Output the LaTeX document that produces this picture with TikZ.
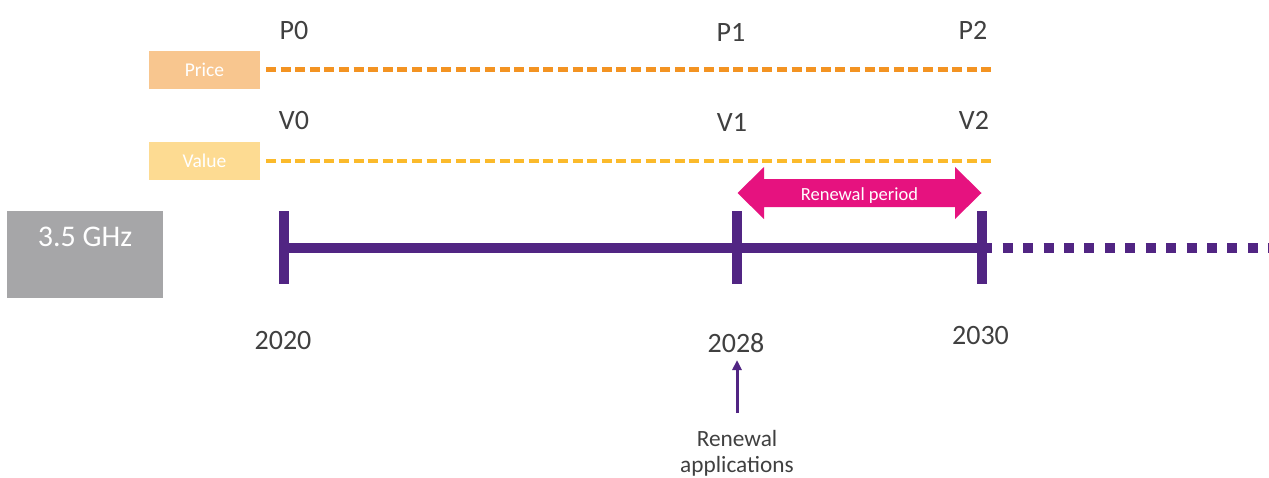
\documentclass[tikz,border=0pt]{standalone}
\usepackage{fontspec}
\setmainfont{Carlito}
\usetikzlibrary{arrows.meta}
\definecolor{pricebox}{HTML}{F8C68F}
\definecolor{valuebox}{HTML}{FDDB92}
\definecolor{priceline}{HTML}{F39322}
\definecolor{valueline}{HTML}{FBBA2B}
\definecolor{band}{HTML}{512583}
\definecolor{renewal}{HTML}{E6127F}
\definecolor{bandbox}{HTML}{A6A6A8}
\definecolor{ink}{HTML}{404040}
\tikzset{
  lbl/.style={text=ink, font=\fontsize{28}{30}\selectfont, anchor=base, inner sep=0pt},
  tagbox/.style={minimum width=111pt, minimum height=38pt, inner sep=0pt, text=white,
    font=\fontsize{19.5}{22}\selectfont},
  dashline/.style={line width=4.5pt, dash pattern=on 10pt off 4.6pt},
  tline/.style={band, line width=10pt, line cap=butt},
  tick/.style={band, line width=10pt, line cap=butt},
}
\begin{document}
\begin{tikzpicture}[x=1pt,y=-1pt]
\useasboundingbox (0,0) rectangle (1269,477);

% price and value rows
\node[tagbox, fill=pricebox] (price) at (204.5,70) {Price};
\node[tagbox, fill=valuebox] (value) at (204.5,161) {Value};
\coordinate (pS) at (266,69.5);
\coordinate (pE) at (991,69.5);
\coordinate (vS) at (266,161);
\coordinate (vE) at (991,161);
\draw[dashline, priceline] (pS) -- (pE);
\draw[dashline, valueline] (vS) -- (vE);

\node[lbl] (p0) at (294,39) {P0};
\node[lbl] (p1) at (731,41) {P1};
\node[lbl] (p2) at (973,39) {P2};
\node[lbl] (v0) at (294,129) {V0};
\node[lbl] (v1) at (732,131) {V1};
\node[lbl] (v2) at (974,129) {V2};

% band label
\node[fill=bandbox, minimum width=156pt, minimum height=87pt, inner sep=0pt] (band) at (85,254.5) {};
\node[text=white, font=\fontsize{30}{32}\selectfont, anchor=base, inner sep=0pt] (ghz) at (85,246) {3.5 GHz};

% licence timeline
\coordinate (t0s) at (279,247.5);
\coordinate (t2x) at (992,247.5);
\coordinate (d0) at (1002.7,247.5);
\coordinate (dE) at (1269,247.5);
\coordinate (t0a) at (284,211);
\coordinate (t0b) at (284,283.5);
\coordinate (t1a) at (737,211);
\coordinate (t1b) at (737,283.5);
\coordinate (t2a) at (982,211);
\coordinate (t2b) at (982,283.5);
\draw[tline] (t0s) -- (t2x);
\draw[tick] (t0a) -- (t0b);
\draw[tick] (t1a) -- (t1b);
\draw[tick] (t2a) -- (t2b);
\draw[band, line width=10pt, dash pattern=on 10pt off 10.43pt] (d0) -- (dE);

% renewal period arrow
\fill[renewal] (737.5,193) -- (764,167) -- (764,179) -- (955,179) -- (955,167)
  -- (981.5,193) -- (955,219) -- (955,207) -- (764,207) -- (764,219) -- cycle;
\node[text=white, font=\fontsize{18.5}{20}\selectfont, anchor=base, inner sep=0pt] (rp) at (859.5,200) {Renewal period};

% years
\node[lbl] (y2020) at (283,349) {2020};
\node[lbl] (y2028) at (736,352) {2028};
\node[lbl] (y2030) at (980.5,344) {2030};

% renewal applications
\node[text=ink, font=\fontsize{23.3}{26}\selectfont, align=center, anchor=north, inner sep=0pt] (apps) at (737,430.5) {Renewal\\applications};
\coordinate (appsTop) at (737,413);
\coordinate (appsTip) at (737,360);
\draw[band, line width=3pt, -{Triangle[length=10pt,width=9pt]}] (appsTop) -- (appsTip);
\end{tikzpicture}
\end{document}
